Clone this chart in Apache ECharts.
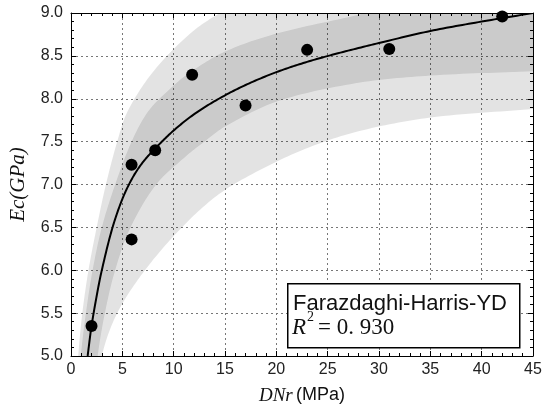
<!DOCTYPE html>
<html><head><meta charset="utf-8">
<script src="https://cdn.jsdelivr.net/npm/echarts@6/dist/echarts.min.js"></script>
<style>html,body{margin:0;padding:0;background:#fff}#c{width:545px;height:412px}</style>
</head><body><div id="c"></div>
<script>
// ---- data ----
const xRange = [0, 45, 5];      // min, max, interval
const yRange = [5.0, 9.0, 0.5];
const pointX = [2.0, 5.9, 5.9, 8.2, 11.8, 17.0, 23.0, 31.0, 42.0];
const pointY = [5.35, 6.36, 7.23, 7.40, 8.28, 7.92, 8.57, 8.58, 8.96];
const fitX = [1.62, 2.0, 2.5, 3.0, 4.0, 5.0, 6.0, 7.0, 8.2, 10.0, 12.0, 14.4, 17.0, 20.0, 23.0, 26.0, 30.0, 35.0, 40.0, 45.0];
const fitY = [5.0, 5.35, 5.7, 6.0, 6.48, 6.83, 7.08, 7.26, 7.42, 7.63, 7.82, 8.0, 8.16, 8.31, 8.43, 8.53, 8.65, 8.79, 8.9, 9.0];
// outer (light) band edges
const outerUpX = [0.45, 0.7, 1.1, 1.7, 2.5, 3.4, 4.5, 5.5, 7.9, 11.5, 14.5, 20.0, 30.0, 47.0];
const outerUpY = [4.5, 5.0, 5.5, 6.0, 6.5, 7.0, 7.5, 7.85, 8.3, 8.75, 9.0, 9.35, 9.7, 10.2];
const outerLoX = [2.5, 3.0, 4.5, 7.2, 10.8, 14.0, 17.0, 22.5, 28.0, 35.0, 45.0, 47.0];
const outerLoY = [4.5, 5.0, 5.5, 6.0, 6.5, 6.85, 7.08, 7.4, 7.62, 7.78, 7.88, 7.9];
// inner (dark) band edges
const innerUpX = [0.7, 0.95, 1.45, 2.1, 3.0, 4.3, 5.9, 7.5, 9.5, 11.5, 15.0, 20.0, 28.0, 35.0, 47.0];
const innerUpY = [4.6, 5.0, 5.5, 6.0, 6.5, 7.0, 7.5, 7.85, 8.1, 8.3, 8.55, 8.76, 8.98, 9.2, 9.6];
const innerLoX = [2.3, 2.6, 3.3, 4.3, 5.8, 8.3, 11.2, 13.0, 15.06, 20.1, 27.7, 35.0, 45.0, 47.0];
const innerLoY = [4.6, 5.0, 5.5, 6.0, 6.5, 7.0, 7.33, 7.5, 7.68, 7.97, 8.18, 8.27, 8.32, 8.33];
const legendTitle = 'Farazdaghi-Harris-YD';
const r2Text = '0. 930';

function zip(a, b) { return a.map((v, i) => [v, b[i]]); }

// smooth curve through pixel points (chord-length tangents, cubic Bezier), sampled for drawing
function smoothPixels(pts) {
  const n = pts.length, d = [], tan = [], out = [];
  for (let i = 0; i < n - 1; i++) d.push(Math.hypot(pts[i + 1][0] - pts[i][0], pts[i + 1][1] - pts[i][1]) || 1e-6);
  for (let i = 0; i < n; i++) {
    const a = pts[Math.max(i - 1, 0)], b = pts[Math.min(i + 1, n - 1)];
    const L = (i > 0 ? d[i - 1] : 0) + (i < n - 1 ? d[i] : 0);
    tan.push([(b[0] - a[0]) / L, (b[1] - a[1]) / L]);
  }
  for (let i = 0; i < n - 1; i++) {
    const p0 = pts[i], p3 = pts[i + 1], s = d[i] / 3;
    const p1 = [p0[0] + tan[i][0] * s, p0[1] + tan[i][1] * s];
    const p2 = [p3[0] - tan[i + 1][0] * s, p3[1] - tan[i + 1][1] * s];
    const steps = 16;
    for (let k = 0; k < steps; k++) {
      const t = k / steps, u = 1 - t;
      out.push([u*u*u*p0[0] + 3*u*u*t*p1[0] + 3*u*t*t*p2[0] + t*t*t*p3[0],
                u*u*u*p0[1] + 3*u*u*t*p1[1] + 3*u*t*t*p2[1] + t*t*t*p3[1]]);
    }
  }
  out.push(pts[n - 1]);
  return out;
}

function band(upX, upY, loX, loY, color) {
  return {
    type: 'custom', coordinateSystem: 'cartesian2d', silent: true, clip: true, z: 1,
    data: [[upX[0], upY[0]]],
    renderItem: function (params, api) {
      const up = smoothPixels(zip(upX, upY).map(p => api.coord(p)));
      const lo = smoothPixels(zip(loX, loY).map(p => api.coord(p))).reverse();
      const cs = params.coordSys;
      return {
        type: 'group',
        clipPath: { type: 'rect', shape: { x: cs.x, y: cs.y, width: cs.width, height: cs.height } },
        children: [{ type: 'polygon', shape: { points: up.concat(lo) }, style: { fill: color } }]
      };
    }
  };
}

function curve(xs, ys) {
  return {
    type: 'custom', coordinateSystem: 'cartesian2d', silent: true, clip: true, z: 3,
    data: [[xs[0], ys[0]]],
    renderItem: function (params, api) {
      const pts = smoothPixels(zip(xs, ys).map(p => api.coord(p)));
      const cs = params.coordSys;
      return {
        type: 'group',
        clipPath: { type: 'rect', shape: { x: cs.x, y: cs.y, width: cs.width, height: cs.height } },
        children: [{ type: 'polyline', shape: { points: pts }, style: { stroke: '#000', lineWidth: 2, fill: null } }]
      };
    }
  };
}

const chart = echarts.init(document.getElementById('c'), null, { renderer: 'canvas' });
const tickFont = { fontFamily: 'Liberation Sans', fontSize: 16, color: '#222' };
const axisCommon = {
  axisLine: { show: true, onZero: false, lineStyle: { color: '#000', width: 1 } },
  axisTick: { show: true, inside: true, length: 5, lineStyle: { color: '#000' } },
  minorTick: { show: true, splitNumber: 5, length: 3, lineStyle: { color: '#000' } },
};
chart.setOption({
  animation: false,
  grid: { left: 70, right: 12, top: 13, bottom: 56 },
  xAxis: [
    Object.assign({ type: 'value', min: xRange[0], max: xRange[1], interval: xRange[2], position: 'bottom',
      axisLabel: Object.assign({ margin: 6 }, tickFont),
      splitLine: { show: true, lineStyle: { color: '#777', type: [2, 3], width: 1 } },
      name: '{i|DNr} {n|(MPa)}', nameLocation: 'middle', nameGap: 30,
      nameTextStyle: { rich: {
        i: { fontFamily: 'Liberation Serif', fontStyle: 'italic', fontSize: 19, color: '#111' },
        n: { fontFamily: 'Liberation Sans', fontSize: 18, color: '#111' } } }
    }, axisCommon),
    Object.assign({ type: 'value', min: xRange[0], max: xRange[1], interval: xRange[2], position: 'top',
      axisLabel: { show: false }, splitLine: { show: false } }, axisCommon)
  ],
  yAxis: [
    Object.assign({ type: 'value', min: yRange[0], max: yRange[1], interval: yRange[2], position: 'left',
      axisLabel: Object.assign({ margin: 8, formatter: v => v.toFixed(1) }, tickFont),
      splitLine: { show: true, lineStyle: { color: '#777', type: [2, 3], width: 1 } },
      name: 'Ec(GPa)', nameLocation: 'middle', nameGap: 42,
      nameTextStyle: { fontFamily: 'Liberation Serif', fontStyle: 'italic', fontSize: 21, color: '#111' }
    }, axisCommon),
    Object.assign({ type: 'value', min: yRange[0], max: yRange[1], interval: yRange[2], position: 'right',
      axisLabel: { show: false }, splitLine: { show: false } }, axisCommon)
  ],
  series: [
    band(outerUpX, outerUpY, outerLoX, outerLoY, 'rgba(0,0,0,0.11)'),
    band(innerUpX, innerUpY, innerLoX, innerLoY, 'rgba(0,0,0,0.11)'),
    curve(fitX, fitY),
    { type: 'scatter', data: zip(pointX, pointY), symbol: 'circle', symbolSize: 12, z: 4,
      itemStyle: { color: '#000', opacity: 1 } }
  ],
  graphic: [
    { type: 'rect', left: 287, top: 283, z: 100, shape: { width: 232, height: 64 },
      style: { fill: '#fff', stroke: '#000', lineWidth: 1.5 } },
    { type: 'text', x: 293, y: 304, z: 101,
      style: { text: legendTitle, font: '22px "Liberation Sans"', fill: '#111', verticalAlign: 'middle' } },
    { type: 'text', x: 292, y: 328, z: 101,
      style: { text: 'R', font: 'italic 23px "Liberation Serif"', fill: '#111', verticalAlign: 'middle' } },
    { type: 'text', x: 307, y: 317, z: 101,
      style: { text: '2', font: '14px "Liberation Serif"', fill: '#111', verticalAlign: 'middle' } },
    { type: 'text', x: 318, y: 328, z: 101,
      style: { text: '= ' + r2Text, font: '23px "Liberation Serif"', fill: '#111', verticalAlign: 'middle' } }
  ]
});
</script></body></html>
